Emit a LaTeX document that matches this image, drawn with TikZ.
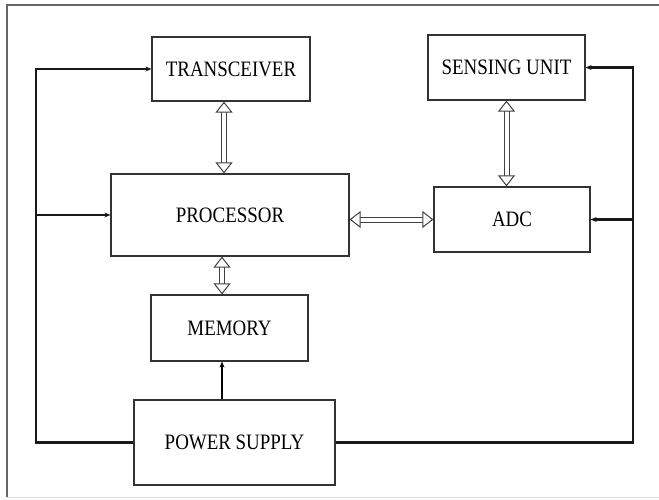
\documentclass[tikz,border=0pt]{standalone}
\usepackage{fontspec}
\setmainfont{Liberation Serif}[FakeStretch=0.86]
\usetikzlibrary{arrows.meta}

\begin{document}
\begin{tikzpicture}[x=1pt,y=-1pt,>={Stealth[length=6pt,width=5pt]},
  blk/.style={draw=black!80,line width=1.2pt,minimum width=#1,inner sep=0pt,
    font=\fontsize{22}{24}\selectfont},
  bus/.style={line width=2.2pt,black!90},
  dbl/.style={draw=black!75,double=white,double distance=4pt,line width=1pt,
    {Triangle[open,fill=white,length=11pt,width=17pt]}-{Triangle[open,fill=white,length=11pt,width=17pt]}}]
\useasboundingbox (0,0) rectangle (659,500);
% frame
\draw[black!60,line width=1.5pt] (659,5)--(7,5)--(7,497);
\draw[black!12,line width=1pt] (7,497)--(659,497);
% blocks
\node[blk=158pt,minimum height=64pt] (trans) at (231,69) {TRANSCEIVER};
\node[blk=157pt,minimum height=65pt] (sens) at (506.5,67.5) {SENSING UNIT};
\node[blk=238pt,minimum height=82pt] (proc) at (230,215) {PROCESSOR};
\node[blk=156pt,minimum height=65pt] (adc) at (512,219.5) {ADC};
\node[blk=157pt,minimum height=66pt] (mem) at (229.5,328) {MEMORY};
\node[blk=201pt,minimum height=85pt] (pow) at (234.5,442.5) {POWER SUPPLY};
% power lines
\coordinate (lbot) at (36,442.5);
\coordinate (rbot) at (633,442.5);
\draw[bus,->] (pow.west)--(lbot)--(lbot |- trans.west)--(trans.west);
\draw[bus,->] (lbot |- proc.west)--(proc.west);
\draw[bus,->] (pow.east)--(rbot)--(rbot |- sens.east)--(sens.east);
\draw[bus,->] (rbot |- adc.east)--(adc.east);
\draw[line width=1.4pt,->] ([xshift=-12.5pt]pow.north)--([xshift=-12.5pt]pow.north |- mem.south);
% data links
\draw[dbl] ([xshift=-7pt]trans.south)--([xshift=-6pt]proc.north);
\draw[dbl] (sens.south)--(sens.south |- adc.north);
\draw[dbl] (adc.west -| proc.east)--(adc.west);
\draw[dbl] ([xshift=-8pt]proc.south)--([xshift=-8pt]proc.south |- mem.north);
\end{tikzpicture}
\end{document}
